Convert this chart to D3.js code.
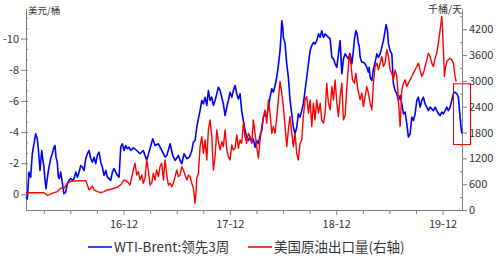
<!DOCTYPE html>
<html>
<head>
<meta charset="utf-8">
<script src="https://cdn.jsdelivr.net/npm/d3@7"></script>
<style>
  body { margin: 0; background: #fff; }
  text { font-family: "Noto Sans CJK SC", "Noto Sans", sans-serif; }
</style>
</head>
<body>
<div id="chart"></div>
<script>
const width = 499;
const height = 258;

// x in decimal years, left axis: WTI-Brent spread (USD/bbl), right axis: US crude exports (kb/d)
const wtiBrent = [
  [2016.000,0.17],[2016.012,0.30],[2016.028,-1.43],[2016.044,-1.11],[2016.059,-2.61],[2016.075,-3.25],[2016.091,-3.89],[2016.106,-3.57],
  [2016.113,-3.14],[2016.122,-2.39],[2016.132,-1.54],[2016.138,-2.07],[2016.148,-2.82],[2016.157,-2.29],[2016.169,-1.75],[2016.176,-1.11],
  [2016.188,-0.37],[2016.200,-1.01],[2016.216,-1.75],[2016.232,-2.29],[2016.247,-2.61],[2016.263,-3.03],[2016.273,-3.14],[2016.282,-2.39],
  [2016.294,-2.07],[2016.304,-1.11],[2016.313,-1.01],[2016.326,-1.43],[2016.341,-0.79],[2016.357,-0.04],[2016.373,-0.15],[2016.389,-0.69],
  [2016.404,-0.90],[2016.420,-1.01],[2016.436,-0.90],[2016.452,-1.01],[2016.468,-1.43],[2016.483,-1.11],[2016.499,-1.43],[2016.515,-1.86],
  [2016.530,-1.75],[2016.546,-1.54],[2016.562,-2.29],[2016.577,-2.61],[2016.593,-2.82],[2016.609,-2.29],[2016.624,-2.07],[2016.640,-2.39],
  [2016.656,-1.97],[2016.671,-2.50],[2016.687,-2.71],[2016.703,-2.07],[2016.718,-1.75],[2016.734,-1.22],[2016.750,-1.54],[2016.765,-1.11],
  [2016.781,-1.01],[2016.797,-0.90],[2016.812,-1.43],[2016.828,-1.65],[2016.844,-1.43],[2016.859,-1.22],[2016.875,-1.11],[2016.891,-3.03],
  [2016.906,-3.25],[2016.922,-2.82],[2016.938,-3.14],[2016.953,-2.93],[2016.969,-3.03],[2016.985,-2.82],
  [2017.009,-2.99],[2017.041,-2.82],[2017.072,-2.61],[2017.103,-2.82],[2017.135,-2.20],[2017.166,-2.93],[2017.192,-3.57],[2017.213,-3.14],
  [2017.245,-3.25],[2017.277,-2.82],[2017.308,-2.39],[2017.324,-2.50],[2017.355,-3.25],[2017.380,-2.50],[2017.402,-2.18],[2017.433,-2.50],
  [2017.449,-2.18],[2017.465,-1.97],[2017.486,-2.61],[2017.512,-2.29],[2017.536,-2.39],[2017.559,-2.82],[2017.574,-3.35],[2017.590,-3.46],
  [2017.606,-4.31],[2017.621,-4.85],[2017.637,-5.38],[2017.653,-6.03],[2017.668,-5.81],[2017.684,-6.24],[2017.700,-5.71],[2017.715,-6.67],
  [2017.731,-6.03],[2017.747,-6.24],[2017.762,-5.71],[2017.778,-6.03],[2017.794,-6.46],[2017.809,-6.88],[2017.825,-6.67],[2017.841,-6.24],
  [2017.856,-5.81],[2017.872,-5.06],[2017.888,-5.60],[2017.903,-6.03],[2017.919,-6.56],[2017.935,-6.24],[2017.950,-6.67],[2017.966,-6.99],
  [2017.982,-6.46],[2017.997,-6.13],
  [2018.013,-6.46],[2018.028,-5.38],[2018.044,-4.74],[2018.060,-4.10],[2018.075,-3.67],[2018.091,-3.46],[2018.107,-3.67],[2018.123,-3.35],
  [2018.138,-3.57],[2018.154,-3.03],[2018.170,-3.46],[2018.185,-3.25],[2018.201,-3.78],[2018.217,-4.10],[2018.232,-4.96],[2018.248,-5.17],
  [2018.264,-4.96],[2018.279,-5.60],[2018.295,-6.24],[2018.311,-6.78],[2018.326,-6.56],[2018.342,-6.99],[2018.358,-7.52],[2018.373,-8.27],
  [2018.389,-9.23],[2018.399,-10.30],[2018.405,-11.15],[2018.415,-10.72],[2018.420,-10.08],[2018.436,-9.66],[2018.452,-8.38],[2018.467,-7.52],
  [2018.483,-6.03],[2018.499,-5.17],[2018.514,-4.31],[2018.530,-3.89],[2018.546,-4.31],[2018.561,-5.17],[2018.577,-4.96],[2018.593,-5.38],
  [2018.608,-5.81],[2018.624,-6.67],[2018.640,-7.52],[2018.656,-8.38],[2018.672,-9.23],[2018.687,-9.55],[2018.703,-9.76],[2018.718,-9.66],
  [2018.734,-9.87],[2018.750,-10.30],[2018.766,-10.08],[2018.781,-10.51],[2018.797,-10.08],[2018.813,-10.30],[2018.828,-10.19],[2018.844,-10.08],
  [2018.860,-9.98],[2018.876,-8.80],[2018.891,-8.70],[2018.907,-8.38],[2018.923,-8.16],[2018.938,-9.02],[2018.954,-9.87],[2018.970,-7.74],
  [2018.985,-8.70],
  [2019.001,-9.02],[2019.032,-8.70],[2019.048,-9.02],[2019.064,-8.38],[2019.079,-9.23],[2019.089,-9.98],[2019.102,-10.51],[2019.114,-10.30],
  [2019.126,-9.66],[2019.133,-9.55],[2019.142,-8.80],[2019.158,-8.48],[2019.173,-8.48],[2019.189,-8.38],[2019.205,-8.16],[2019.220,-7.84],
  [2019.227,-8.16],[2019.236,-7.52],[2019.252,-7.31],[2019.267,-8.06],[2019.283,-8.48],[2019.299,-9.02],[2019.314,-8.80],[2019.330,-9.02],
  [2019.346,-9.44],[2019.361,-9.87],[2019.377,-10.51],[2019.386,-10.90],[2019.399,-10.51],[2019.408,-9.66],[2019.424,-9.23],[2019.440,-9.02],
  [2019.455,-7.10],[2019.471,-6.67],[2019.487,-6.46],[2019.502,-6.03],[2019.518,-6.35],[2019.534,-5.81],[2019.550,-5.17],[2019.565,-5.28],
  [2019.581,-4.53],[2019.596,-3.67],[2019.612,-3.89],[2019.628,-4.96],[2019.643,-4.74],[2019.659,-5.17],[2019.675,-6.03],[2019.690,-6.24],
  [2019.706,-5.60],[2019.722,-6.03],[2019.737,-6.24],[2019.753,-5.81],[2019.769,-5.60],[2019.784,-5.38],[2019.800,-5.60],[2019.816,-5.49],
  [2019.831,-5.38],[2019.847,-5.60],[2019.863,-5.38],[2019.878,-5.17],[2019.894,-5.06],[2019.910,-5.28],[2019.925,-5.17],[2019.941,-5.38],
  [2019.957,-5.60],[2019.972,-5.38],[2019.988,-5.60],
  [2020.004,-6.03],[2020.019,-6.46],[2020.035,-6.56],[2020.051,-6.46],[2020.066,-6.24],[2020.082,-4.96],[2020.091,-4.29],[2020.098,-3.91]
];

const usExports = [
  [2016.000,402],[2016.169,402],[2016.200,342],[2016.263,402],[2016.294,426],[2016.326,505],[2016.357,505],[2016.389,621],
  [2016.420,658],[2016.452,675],[2016.562,682],[2016.577,582],[2016.593,465],[2016.609,505],[2016.624,558],[2016.640,465],
  [2016.671,426],[2016.703,402],[2016.734,426],[2016.765,465],[2016.797,481],[2016.828,505],[2016.859,528],[2016.891,582],
  [2016.922,698],[2016.953,658],[2016.978,582],
  [2017.009,930],[2017.025,1086],[2017.041,814],[2017.056,891],[2017.072,698],[2017.088,814],[2017.103,621],[2017.119,737],
  [2017.135,1163],[2017.150,930],[2017.166,582],[2017.182,621],[2017.197,854],[2017.213,698],[2017.229,930],[2017.245,775],
  [2017.260,1007],[2017.276,1086],[2017.292,698],[2017.308,1163],[2017.324,814],[2017.339,582],[2017.355,621],[2017.371,542],
  [2017.386,621],[2017.402,775],[2017.418,930],[2017.433,775],[2017.449,814],[2017.465,1007],[2017.480,930],[2017.496,814],
  [2017.512,698],[2017.527,814],[2017.543,775],[2017.559,621],[2017.574,505],[2017.590,156],[2017.599,426],[2017.606,737],
  [2017.621,854],[2017.637,1472],[2017.653,1705],[2017.668,1319],[2017.684,1628],[2017.700,1163],[2017.715,1861],[2017.731,2093],
  [2017.747,1705],[2017.762,930],[2017.778,1240],[2017.794,1861],[2017.809,1589],[2017.825,1396],[2017.841,1589],[2017.856,1472],
  [2017.872,1861],[2017.888,1396],[2017.903,1240],[2017.919,1163],[2017.935,1512],[2017.950,1396],[2017.966,1435],[2017.982,1745],
  [2017.997,1435],
  [2018.013,1628],[2018.028,1551],[2018.044,2017],[2018.060,1705],[2018.075,1551],[2018.091,1784],[2018.107,1705],[2018.123,1551],
  [2018.138,2093],[2018.154,1784],[2018.170,1472],[2018.185,1203],[2018.201,1628],[2018.217,1938],[2018.232,2170],[2018.248,2326],
  [2018.264,2017],[2018.279,2559],[2018.295,2249],[2018.311,1784],[2018.326,1938],[2018.342,1784],[2018.358,2170],[2018.373,2559],
  [2018.389,2984],[2018.405,2714],[2018.420,2403],[2018.436,1938],[2018.452,1472],[2018.467,1861],[2018.483,2170],[2018.499,1784],
  [2018.514,1472],[2018.530,1784],[2018.546,1319],[2018.561,1163],[2018.577,1551],[2018.593,1628],[2018.608,2170],[2018.624,2559],
  [2018.640,2635],[2018.656,2249],[2018.672,2559],[2018.687,1938],[2018.703,2482],[2018.718,2093],[2018.734,2559],[2018.750,2249],
  [2018.766,2482],[2018.781,2093],[2018.797,2017],[2018.813,2249],[2018.828,2947],[2018.844,2482],[2018.860,2326],[2018.876,2868],
  [2018.891,2559],[2018.907,3024],[2018.923,2482],[2018.938,2170],[2018.954,2635],[2018.970,2947],[2018.985,2093],
  [2019.001,2200],[2019.017,2868],[2019.032,3333],[2019.042,3645],[2019.058,3333],[2019.070,3024],[2019.089,2947],[2019.102,3180],
  [2019.121,2791],[2019.142,2559],[2019.158,2714],[2019.173,2403],[2019.189,2635],[2019.205,2868],[2019.220,2714],[2019.236,2482],
  [2019.252,2326],[2019.258,2559],[2019.267,2947],[2019.283,3333],[2019.299,3412],[2019.314,3256],[2019.330,3412],[2019.346,3566],
  [2019.361,3333],[2019.377,3412],[2019.393,3722],[2019.408,3566],[2019.424,3256],[2019.440,3180],[2019.455,3024],[2019.471,3256],
  [2019.487,3101],[2019.502,2559],[2019.512,2170],[2019.518,1938],[2019.524,2249],[2019.534,2791],[2019.550,2947],[2019.565,3024],
  [2019.581,2868],[2019.596,2947],[2019.612,3024],[2019.628,3101],[2019.643,3180],[2019.659,3256],[2019.675,3333],[2019.690,3412],
  [2019.706,3256],[2019.722,3101],[2019.737,3180],[2019.753,3333],[2019.769,3489],[2019.784,3645],[2019.800,3566],[2019.816,3412],
  [2019.831,3333],[2019.847,3528],[2019.863,3645],[2019.878,3877],[2019.894,4187],[2019.910,4496],[2019.916,4264],[2019.925,3722],
  [2019.935,3101],[2019.941,3256],[2019.957,3450],[2019.972,3489],[2019.988,3528],
  [2020.004,3489],[2020.019,3412],[2020.035,3101],[2020.045,2984]
];

const xTickValues = [2016.917, 2017.917, 2018.917, 2019.917];
const xTickLabels = ["16-12", "17-12", "18-12", "19-12"];
const xMinorTicks = [2016.167, 2016.417, 2016.667, 2017.167, 2017.417, 2017.667, 2018.167, 2018.417, 2018.667, 2019.167, 2019.417, 2019.667];
const leftTicks = [0, -2, -4, -6, -8, -10];
const rightTicks = [0, 600, 1200, 1800, 2400, 3000, 3600, 4200];
const seriesNames = ["WTI-Brent:领先3周", "美国原油出口量(右轴)"];
const seriesColors = ["#0000ff", "#ff0000"];
const highlightBox = { t0: 2020.02, t1: 2020.18, v0: -7.1, v1: -3.2 };

const plot = { left: 26, right: 462, top: 9, bottom: 210 };

const xScale = d3.scaleLinear().domain([2016.0, 2020.1]).range([plot.left, plot.right]);
const yLeft = d3.scaleLinear().domain([1, -11.9]).range([plot.bottom, plot.top]);
const yRight = d3.scaleLinear().domain([0, 4670]).range([plot.bottom, plot.top]);

const svg = d3.select("#chart").append("svg").attr("width", width).attr("height", height);

const axisColor = "#808080";
const labelColor = "#333";

function styleAxis(sel) {
    sel.select(".domain").attr("stroke", axisColor);
    sel.selectAll(".tick line").attr("stroke", axisColor);
    sel.selectAll(".tick text").attr("fill", labelColor).style("font-size", "11px")
        .style("font-family", '"Noto Sans CJK SC", "Noto Sans", sans-serif');
}

// x axis
svg.append("g")
    .attr("transform", `translate(0,${plot.bottom})`)
    .call(d3.axisBottom(xScale).tickValues(xMinorTicks).tickSize(4).tickFormat("").tickSizeOuter(0))
    .call(styleAxis);
svg.append("g")
    .attr("transform", `translate(0,${plot.bottom})`)
    .call(d3.axisBottom(xScale).tickValues(xTickValues).tickSize(5).tickPadding(5)
        .tickFormat((d, i) => xTickLabels[i]).tickSizeOuter(0))
    .call(styleAxis);

// left axis
svg.append("g")
    .attr("transform", `translate(${plot.left},0)`)
    .call(d3.axisLeft(yLeft).tickValues(d3.range(0, -12, -2 / 3)).tickSize(-2).tickFormat("").tickSizeOuter(0))
    .call(styleAxis);
svg.append("g")
    .attr("transform", `translate(${plot.left},0)`)
    .call(d3.axisLeft(yLeft).tickValues(leftTicks).tickSize(5).tickPadding(2)
        .tickFormat(d => String(d)).tickSizeOuter(0))
    .call(styleAxis);

// right axis
svg.append("g")
    .attr("transform", `translate(${plot.right},0)`)
    .call(d3.axisRight(yRight).tickValues(d3.range(300, 4600, 600)).tickSize(-2).tickFormat("").tickSizeOuter(0))
    .call(styleAxis);
svg.append("g")
    .attr("transform", `translate(${plot.right},0)`)
    .call(d3.axisRight(yRight).tickValues(rightTicks).tickSize(5).tickPadding(2)
        .tickFormat(d => String(d)).tickSizeOuter(0))
    .call(styleAxis);

// unit labels
svg.append("text")
    .attr("x", plot.left + 2).attr("y", 14)
    .attr("fill", labelColor).style("font-size", "9.5px")
    .text("美元/桶");
svg.append("text")
    .attr("x", plot.right).attr("y", 13)
    .attr("text-anchor", "end")
    .attr("fill", labelColor).style("font-size", "10px")
    .text("千桶/天");

const lineLeft = d3.line().x(d => xScale(d[0])).y(d => yLeft(d[1]));
const lineRight = d3.line().x(d => xScale(d[0])).y(d => yRight(d[1]));

svg.append("path")
    .datum(wtiBrent)
    .attr("fill", "none")
    .attr("stroke", seriesColors[0])
    .attr("stroke-width", 1.6)
    .attr("stroke-linejoin", "round")
    .attr("d", lineLeft);

svg.append("path")
    .datum(usExports)
    .attr("fill", "none")
    .attr("stroke", seriesColors[1])
    .attr("stroke-width", 1.4)
    .attr("stroke-linejoin", "round")
    .attr("d", lineRight);

// highlight box
svg.append("rect")
    .attr("x", xScale(highlightBox.t0))
    .attr("y", yLeft(highlightBox.v0))
    .attr("width", xScale(highlightBox.t1) - xScale(highlightBox.t0))
    .attr("height", yLeft(highlightBox.v1) - yLeft(highlightBox.v0))
    .attr("fill", "none")
    .attr("stroke", "#e00000")
    .attr("stroke-width", 1);

// legend
const legendX = [88, 248];
seriesNames.forEach((name, i) => {
    svg.append("line")
        .attr("x1", legendX[i]).attr("x2", legendX[i] + 24)
        .attr("y1", 247).attr("y2", 247)
        .attr("stroke", seriesColors[i])
        .attr("stroke-width", 1.5);
    svg.append("text")
        .attr("x", legendX[i] + 26).attr("y", 252)
        .attr("fill", labelColor)
        .style("font-size", "13.5px")
        .text(name);
});
</script>
</body>
</html>
